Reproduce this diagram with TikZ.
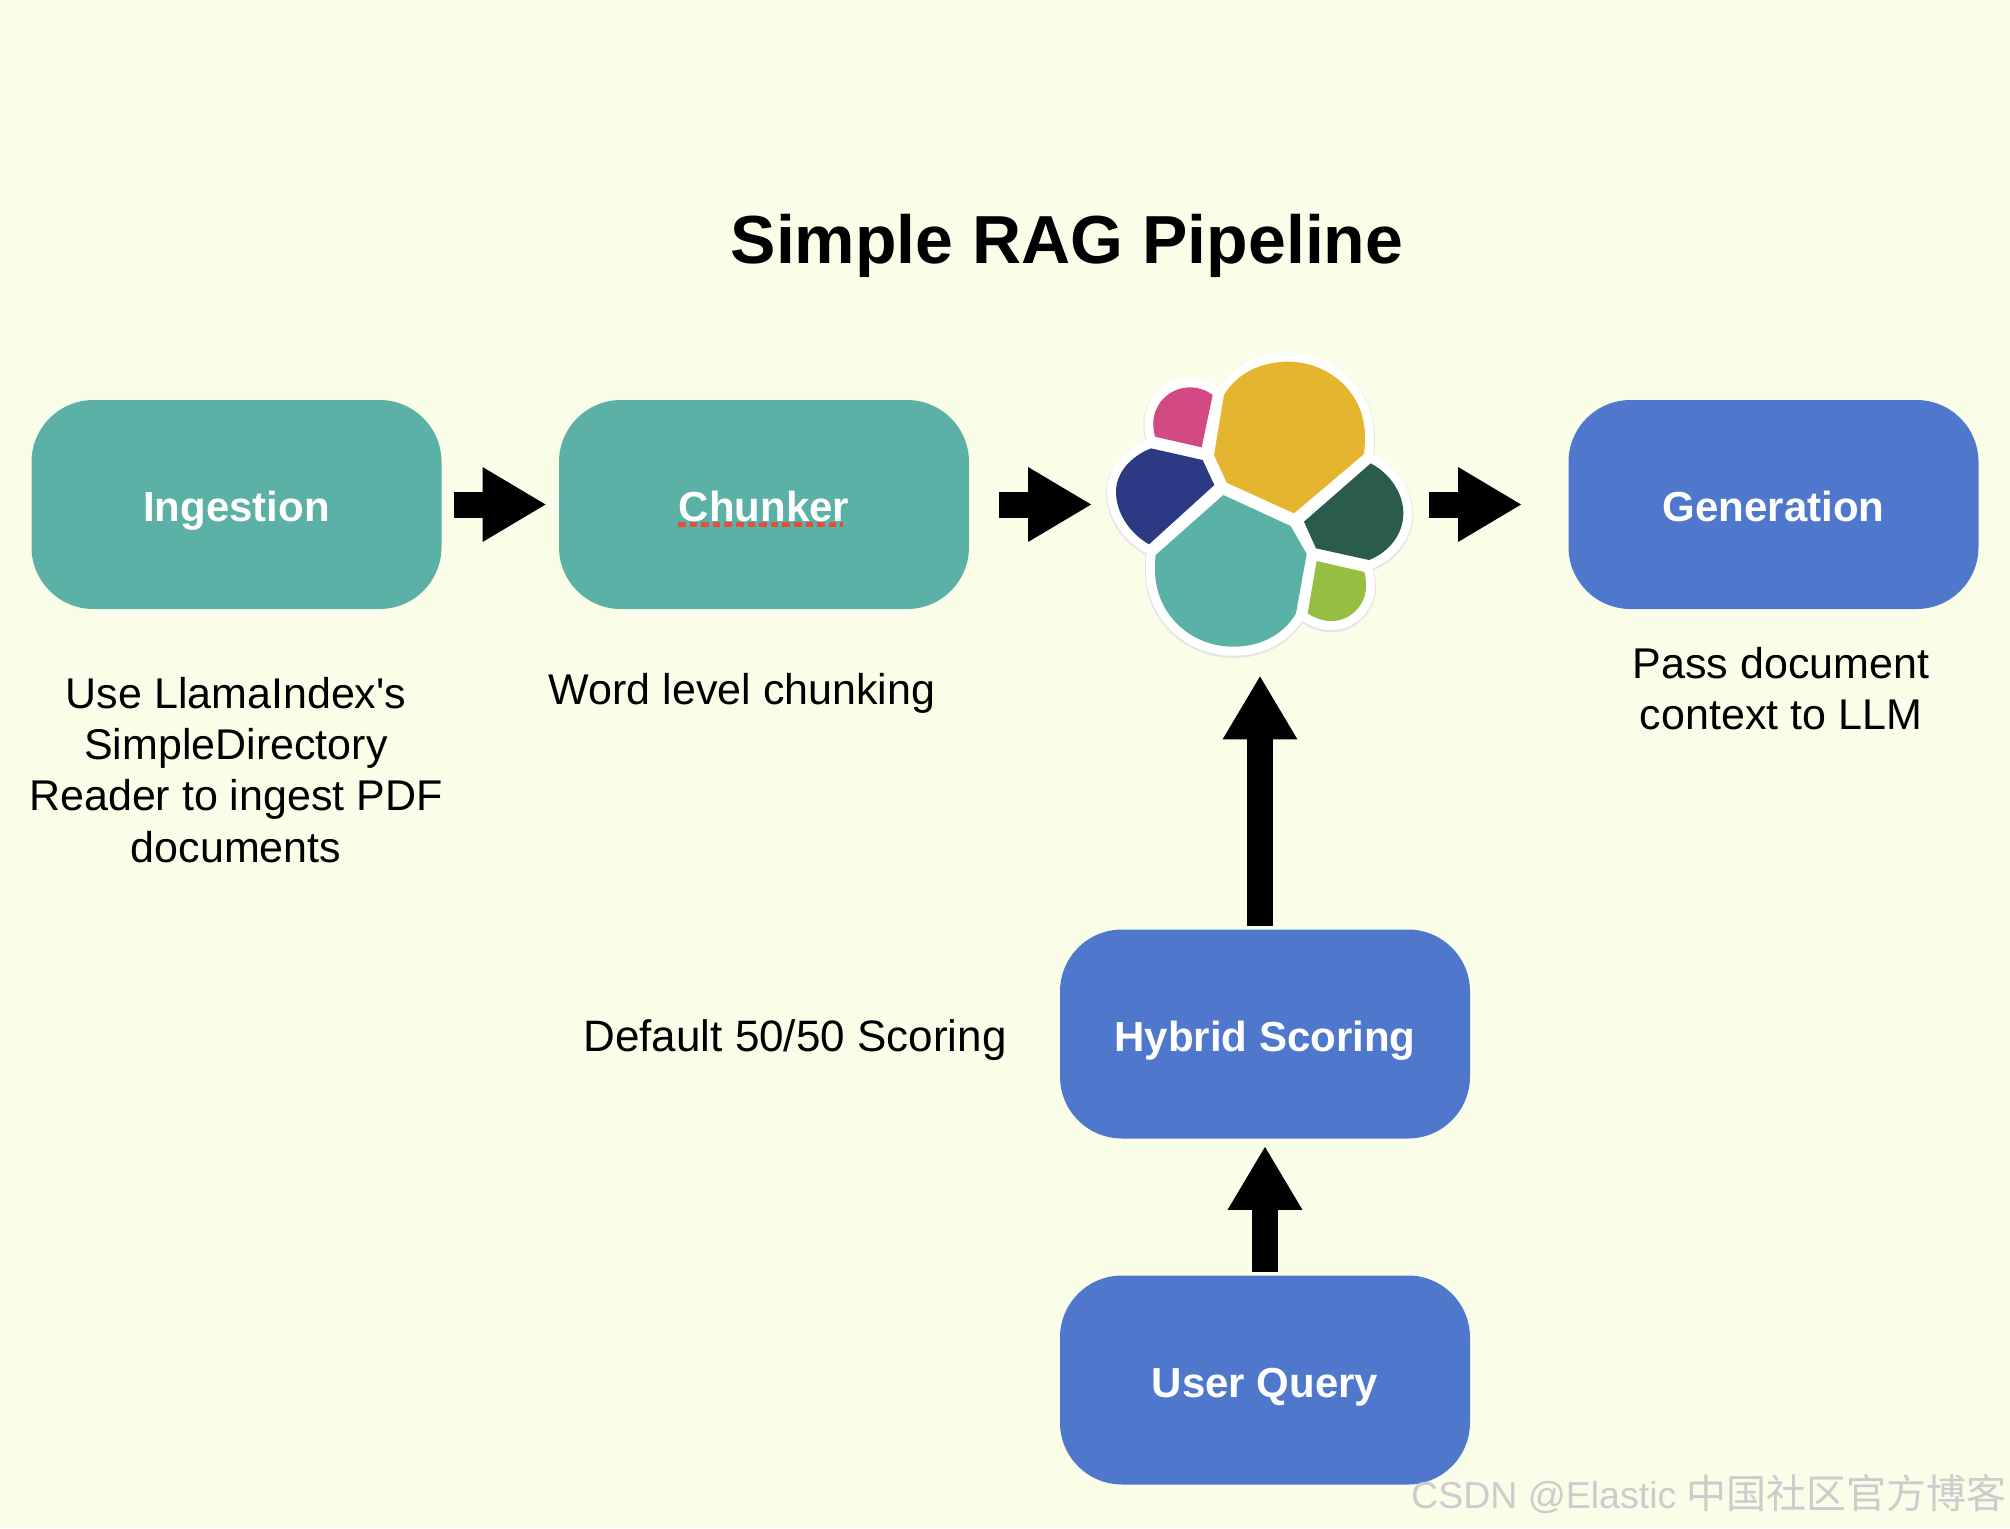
\documentclass[tikz,border=0pt]{standalone}
\usepackage{fontspec}
\setmainfont{Liberation Sans}
\newfontfamily\cjk{Noto Sans CJK SC}
\usetikzlibrary{arrows.meta}

\definecolor{pagebg}{HTML}{FAFEE8}
\definecolor{boxteal}{HTML}{5BB1A5}
\definecolor{boxblue}{HTML}{4F78CC}
\definecolor{spellred}{HTML}{E0503A}
\definecolor{logoyellow}{HTML}{E6B530}
\definecolor{logopink}{HTML}{D34A82}
\definecolor{logonavy}{HTML}{2B3A82}
\definecolor{logoteal}{HTML}{5AB2A6}
\definecolor{logogreen}{HTML}{2A5B4C}
\definecolor{logolime}{HTML}{96BE40}

\def\petalyellow{(432,195) .. controls (470,130) and (545,95) .. (622,95) .. controls (750,95) and (855,190) .. (855,320) .. controls (855,340) and (854,355) .. (852,372) -- (642,550) -- (440,458) -- (402,375) -- cycle}
\def\petalpink{(398,195) .. controls (378,180) and (355,172) .. (330,172) .. controls (270,172) and (220,220) .. (220,280) .. controls (220,295) and (222,308) .. (225,320) -- (365,352) -- cycle}
\def\petalnavy{(213,355) -- (368,390) -- (403,465) -- (207,643) .. controls (150,610) and (108,550) .. (108,485) .. controls (108,430) and (150,380) .. (213,355) -- cycle}
\def\petalteal{(430,495) -- (632,588) -- (680,672) -- (648,850) .. controls (610,915) and (540,950) .. (460,950) .. controls (330,950) and (225,850) .. (225,720) .. controls (225,705) and (225,690) .. (227,675) -- cycle}
\def\petalgreen{(872,400) .. controls (930,430) and (970,490) .. (970,550) .. controls (970,610) and (930,665) .. (867,690) -- (708,655) -- (672,575) -- cycle}
\def\petallime{(710,693) -- (853,726) .. controls (857,740) and (858,755) .. (858,770) .. controls (858,825) and (810,873) .. (755,873) .. controls (730,873) and (705,865) .. (683,850) -- cycle}

\begin{document}
\begin{tikzpicture}
  [x=.5pt,y=-.5pt,
   stage/.style={rounded corners=31pt,minimum width=205pt,minimum height=104.5pt,inner sep=0pt,text height=18pt,text depth=1pt,text=white,font=\fontsize{21}{25}\selectfont\bfseries},
   note/.style={align=center,inner sep=0pt,font=\fontsize{21.5}{25.6}\selectfont},
   blockarrow/.style={line width=13pt,-{Triangle[length=32pt,width=35pt]}}]
  \useasboundingbox[fill=pagebg] (0,0) rectangle (2010,1528);
  \node (title) at (1067,246) [inner sep=0pt,font=\fontsize{34}{40}\selectfont\bfseries] {Simple RAG Pipeline};
  \node (ingestion) at (236.5,504.5) [stage,fill=boxteal] {Ingestion};
  \node (chunker) at (764,504.5) [stage,fill=boxteal] {Chunker};
  \node (generation) at (1773.5,504.5) [stage,fill=boxblue] {Generation};
  \node (hybrid) at (1265,1034) [stage,fill=boxblue] {Hybrid Scoring};
  \node (query) at (1265,1380) [stage,fill=boxblue] {User Query};
  \node (logo) at (1260,504.5) [minimum width=152.5pt,minimum height=151.5pt,inner sep=0pt] {};
  \node (ingestnote) at (236,770) [note] {Use LlamaIndex\textquotesingle s\\SimpleDirectory\\Reader to ingest PDF\\documents};
  \node (chunknote) at (742,693) [note] {Word level chunking};
  \node (gennote) at (1781,689) [note] {Pass document\\context to LLM};
  \node (scorenote) at (795,1040) [note,font=\fontsize{22}{26}\selectfont] {Default 50/50 Scoring};
  \node (mark) at (1709,1494) [inner sep=0pt,text=black!20,font=\fontsize{18.75}{23}\selectfont] {CSDN @Elastic {\fontsize{20}{23}\selectfont\cjk 中国社区官方博客}};
  \draw[spellred,line width=2.5pt,dash pattern=on 3.8pt off 2pt] ([xshift=-43pt,yshift=-10pt]chunker.center) -- ([xshift=39.5pt,yshift=-10pt]chunker.center);
  \begin{scope}[shift={(1080,330)},x=.16667pt,y=-.16667pt]
    \draw[black!10,line width=10pt,line join=round,yshift=-.6pt] \petalyellow \petalpink \petalnavy \petalteal \petalgreen \petallime;
    \draw[white,fill=white,line width=9pt,line join=round] \petalyellow \petalpink \petalnavy \petalteal \petalgreen \petallime;
    \fill[logoyellow] \petalyellow;
    \fill[logopink] \petalpink;
    \fill[logonavy] \petalnavy;
    \fill[logoteal] \petalteal;
    \fill[logogreen] \petalgreen;
    \fill[logolime] \petallime;
  \end{scope}
  \foreach \from/\to/\gapa/\gapb in {ingestion/chunker/6pt/6pt,chunker/logo/15pt/7.5pt,logo/generation/8pt/23pt}
    \draw[blockarrow,shorten <=\gapa,shorten >=\gapb] (\from.east) -- (\to.west);
  \draw[blockarrow,shorten <=1.5pt,shorten >=9.5pt] (logo.south |- hybrid.north) -- (logo.south);
  \draw[blockarrow,shorten <=1.5pt,shorten >=3.5pt] (query) -- (hybrid);
\end{tikzpicture}
\end{document}
